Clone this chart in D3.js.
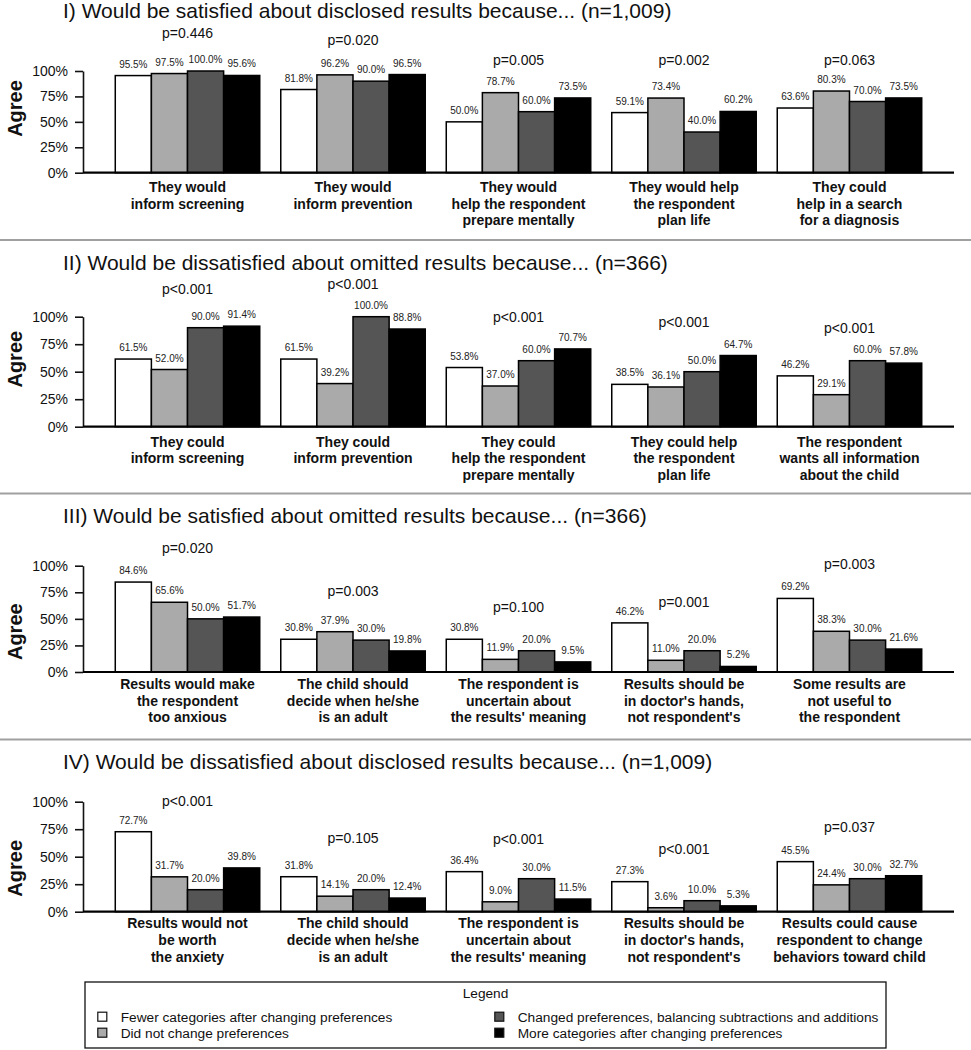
<!DOCTYPE html>
<html>
<head>
<meta charset="utf-8">
<script src="https://cdn.jsdelivr.net/npm/d3@7"></script>
<style>
  html, body { margin: 0; padding: 0; background: #fff; }
  svg { display: block; font-family: "Liberation Sans", Arial, Helvetica, sans-serif; }
</style>
</head>
<body>
<svg id="chart" width="971" height="1050"></svg>
<script>
// ---------------- DATA ----------------
const seriesNames = [
  "Fewer categories after changing preferences",
  "Did not change preferences",
  "Changed preferences, balancing subtractions and additions",
  "More categories after changing preferences"
];

const panelTitles = [
  "I) Would be satisfied about disclosed results because... (n=1,009)",
  "II) Would be dissatisfied about omitted results because... (n=366)",
  "III) Would be satisfied about omitted results because... (n=366)",
  "IV) Would be dissatisfied about disclosed results because... (n=1,009)"
];

const panelCategories = [
  ["They would\ninform screening", "They would\ninform prevention", "They would\nhelp the respondent\nprepare mentally", "They would help\nthe respondent\nplan life", "They could\nhelp in a search\nfor a diagnosis"],
  ["They could\ninform screening", "They could\ninform prevention", "They could\nhelp the respondent\nprepare mentally", "They could help\nthe respondent\nplan life", "The respondent\nwants all information\nabout the child"],
  ["Results would make\nthe respondent\ntoo anxious", "The child should\ndecide when he/she\nis an adult", "The respondent is\nuncertain about\nthe results' meaning", "Results should be\nin doctor's hands,\nnot respondent's", "Some results are\nnot useful to\nthe respondent"],
  ["Results would not\nbe worth\nthe anxiety", "The child should\ndecide when he/she\nis an adult", "The respondent is\nuncertain about\nthe results' meaning", "Results should be\nin doctor's hands,\nnot respondent's", "Results could cause\nrespondent to change\nbehaviors toward child"]
];

// Agree (%) per panel, per category
const fewerValues = [
  [95.5, 81.8, 50.0, 59.1, 63.6],
  [61.5, 61.5, 53.8, 38.5, 46.2],
  [84.6, 30.8, 30.8, 46.2, 69.2],
  [72.7, 31.8, 36.4, 27.3, 45.5]
];
const unchangedValues = [
  [97.5, 96.2, 78.7, 73.4, 80.3],
  [52.0, 39.2, 37.0, 36.1, 29.1],
  [65.6, 37.9, 11.9, 11.0, 38.3],
  [31.7, 14.1, 9.0, 3.6, 24.4]
];
const balancedValues = [
  [100.0, 90.0, 60.0, 40.0, 70.0],
  [90.0, 100.0, 60.0, 50.0, 60.0],
  [50.0, 30.0, 20.0, 20.0, 30.0],
  [20.0, 20.0, 30.0, 10.0, 30.0]
];
const moreValues = [
  [95.6, 96.5, 73.5, 60.2, 73.5],
  [91.4, 88.8, 70.7, 64.7, 57.8],
  [51.7, 19.8, 9.5, 5.2, 21.6],
  [39.8, 12.4, 11.5, 5.3, 32.7]
];

const pValues = [
  ["p=0.446", "p=0.020", "p=0.005", "p=0.002", "p=0.063"],
  ["p<0.001", "p<0.001", "p<0.001", "p<0.001", "p<0.001"],
  ["p=0.020", "p=0.003", "p=0.100", "p=0.001", "p=0.003"],
  ["p<0.001", "p=0.105", "p<0.001", "p<0.001", "p=0.037"]
];
// height (in % units) at which each p-value is written
const pLevels = [
  [132, 126, 106, 106, 106],
  [120.6, 125, 95.5, 90.4, 85.5],
  [112.2, 71.8, 56.2, 61.4, 96.6],
  [96.1, 62.2, 61.3, 52.2, 72.2]
];

const yTicks = [0, 25, 50, 75, 100];

// ---------------- LAYOUT / STYLE ----------------
const fills = ["#ffffff", "#aaaaaa", "#555555", "#000000"];
const panelLayout = [
  { titleY: 18,    y100: 71,    y0: 172.7, agreeY: 108.5, catY: 192 },
  { titleY: 270,   y100: 316.7, y0: 426.7, agreeY: 359.2, catY: 446.5 },
  { titleY: 522.5, y100: 565.7, y0: 672,   agreeY: 631.7, catY: 689 },
  { titleY: 769,   y100: 801.7, y0: 911.7, agreeY: 868.3, catY: 928.3 }
];
const separators = [240, 493.5, 739.5];
const xLeft = 83, xRight = 954;

const svg = d3.select("#chart");
svg.append("rect").attr("width", 971).attr("height", 1050).attr("fill", "#fff");

svg.selectAll("line.sep").data(separators).enter().append("line")
  .attr("class", "sep")
  .attr("x1", 0).attr("x2", 971)
  .attr("y1", d => d).attr("y2", d => d)
  .attr("stroke", "#a0a0a0").attr("stroke-width", 2);

const seriesArrays = [fewerValues, unchangedValues, balancedValues, moreValues];

panelTitles.forEach((title, pi) => {
  const L = panelLayout[pi];
  const g = svg.append("g");
  const cats = panelCategories[pi];

  const x0 = d3.scaleBand().domain(d3.range(cats.length)).range([xLeft, xRight])
    .paddingInner(0.127).paddingOuter(0.195);
  const x1 = d3.scaleBand().domain(d3.range(seriesNames.length)).range([0, x0.bandwidth()]).padding(0);
  const y = d3.scaleLinear().domain([0, 100]).range([L.y0, L.y100]);

  // title
  g.append("text").attr("x", 63).attr("y", L.titleY)
    .attr("font-size", 21).attr("fill", "#111").text(title);

  // y axis
  const axis = g.append("g").attr("transform", `translate(${xLeft},0)`)
    .call(d3.axisLeft(y).tickValues(yTicks).tickFormat(d => d + "%")
      .tickSize(8).tickSizeOuter(0).tickPadding(7));
  axis.select(".domain").attr("stroke", "#111").attr("stroke-width", 1.6);
  axis.selectAll(".tick line").attr("stroke", "#111").attr("stroke-width", 1.6);
  axis.selectAll(".tick text").attr("font-size", 14).attr("fill", "#111")
    .attr("font-family", "Liberation Sans, Arial, sans-serif");

  // Agree label
  g.append("text")
    .attr("transform", `translate(22,${L.agreeY}) rotate(-90)`)
    .attr("text-anchor", "middle").attr("font-size", 20).attr("font-weight", "bold")
    .attr("fill", "#111").text("Agree");

  // bars
  const rows = cats.map((c, ci) => ({ ci, vals: seriesArrays.map(arr => arr[pi][ci]) }));
  const grp = g.selectAll("g.grp").data(rows).enter().append("g")
    .attr("transform", d => `translate(${x0(d.ci)},0)`);
  grp.selectAll("rect").data(d => d.vals.map((v, si) => ({ v, si }))).enter().append("rect")
    .attr("x", d => x1(d.si)).attr("width", x1.bandwidth())
    .attr("y", d => y(d.v)).attr("height", d => y(0) - y(d.v))
    .attr("fill", d => fills[d.si]).attr("stroke", "#000").attr("stroke-width", 1.5);
  grp.selectAll("text.val").data(d => d.vals.map((v, si) => ({ v, si }))).enter().append("text")
    .attr("class", "val")
    .attr("x", d => x1(d.si) + x1.bandwidth() / 2)
    .attr("y", d => y(d.v) - 8)
    .attr("text-anchor", "middle").attr("font-size", 10).attr("fill", "#222")
    .text(d => d.v.toFixed(1) + "%");

  // p values
  grp.append("text")
    .attr("x", x0.bandwidth() / 2)
    .attr("y", d => y(pLevels[pi][d.ci]))
    .attr("text-anchor", "middle").attr("font-size", 14).attr("fill", "#111")
    .text(d => pValues[pi][d.ci]);

  // baseline
  g.append("line").attr("x1", xLeft).attr("x2", xRight)
    .attr("y1", y(0)).attr("y2", y(0)).attr("stroke", "#000").attr("stroke-width", 2.2);

  // category labels
  grp.each(function (d) {
    const t = d3.select(this).append("text")
      .attr("text-anchor", "middle").attr("font-size", 14).attr("font-weight", "bold")
      .attr("fill", "#111");
    cats[d.ci].split("\n").forEach((line, li) => {
      t.append("tspan").attr("x", x0.bandwidth() / 2).attr("y", L.catY + li * 16.6).text(line);
    });
  });
});

// ---------------- LEGEND ----------------
const lg = svg.append("g");
lg.append("rect").attr("x", 85).attr("y", 982).attr("width", 801).attr("height", 66)
  .attr("fill", "#fff").attr("stroke", "#111").attr("stroke-width", 1.3);
lg.append("text").attr("x", 485.5).attr("y", 998).attr("text-anchor", "middle")
  .attr("font-size", 13.7).attr("fill", "#111").text("Legend");
const legPos = [
  { mx: 102.3, tx: 120.7, y: 1016.7 },
  { mx: 102.3, tx: 120.7, y: 1032.7 },
  { mx: 499.3, tx: 517.7, y: 1016.7 },
  { mx: 499.3, tx: 517.7, y: 1032.7 }
];
const li = lg.selectAll("g.li").data(seriesNames).enter().append("g");
li.append("rect")
  .attr("x", (d, i) => legPos[i].mx - 4.5).attr("y", (d, i) => legPos[i].y - 4.5)
  .attr("width", 9).attr("height", 9)
  .attr("fill", (d, i) => fills[i]).attr("stroke", "#111").attr("stroke-width", 1.2);
li.append("text")
  .attr("x", (d, i) => legPos[i].tx).attr("y", (d, i) => legPos[i].y + 5)
  .attr("font-size", 13.7).attr("fill", "#111").text(d => d);
</script>
</body>
</html>
